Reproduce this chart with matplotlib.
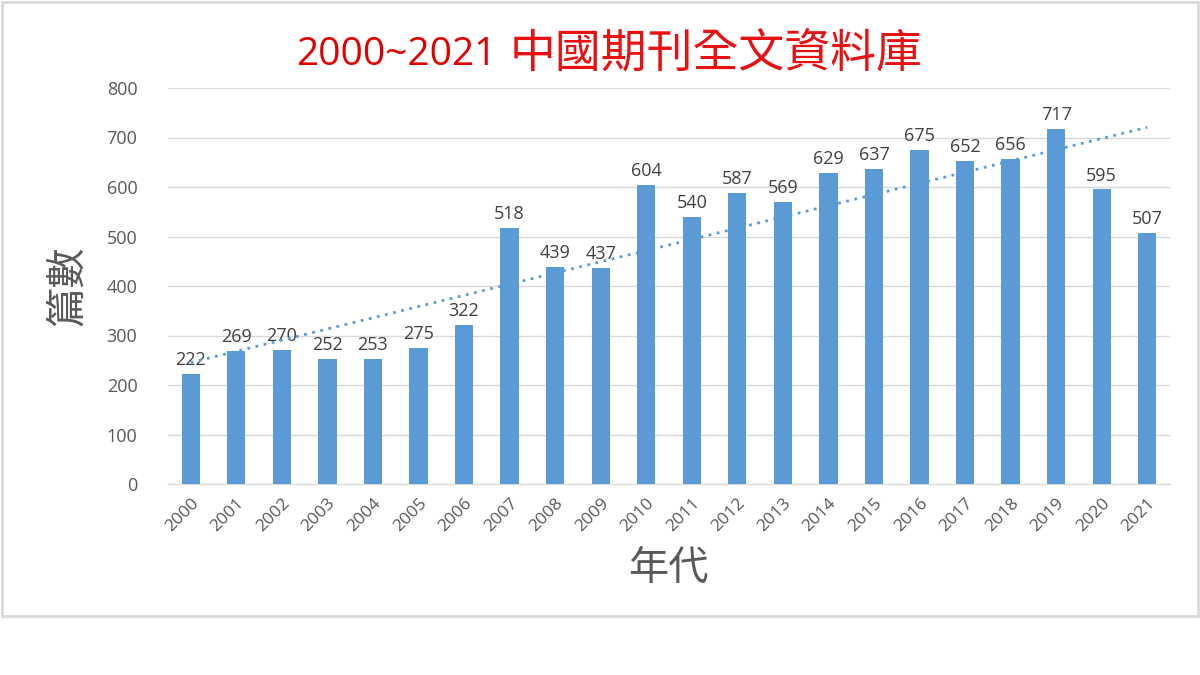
import matplotlib
matplotlib.use("Agg")
import matplotlib.pyplot as plt
import numpy as np
from matplotlib.patches import Rectangle

years = [str(y) for y in range(2000, 2022)]
counts = [222, 269, 270, 252, 253, 275, 322, 518, 439, 437, 604, 540,
          587, 569, 629, 637, 675, 652, 656, 717, 595, 507]
title_years = "2000~2021"
title_name = "中國期刊全文資料庫"
xlabel = "年代"
ylabel = "篇數"

plt.rcParams['font.family'] = ['Open Sans', 'Noto Sans CJK TC', 'DejaVu Sans']
cjk = ['Noto Sans CJK TC', 'DejaVu Sans']

fig = plt.figure(figsize=(12, 6.75), dpi=100)
fig.patch.set_facecolor('white')
fig.patches.append(Rectangle((2/1200, 1-616/675), 1196/1200, 614/675,
                             transform=fig.transFigure, fill=False,
                             edgecolor='#d9d9d9', linewidth=2))

ax = fig.add_axes([168/1200, 1-484/675, (1170-168)/1200, (484-88)/675])
x = np.arange(len(years))
ax.bar(x, counts, width=0.4, color='#5B9BD5', zorder=3)
for xi, c in zip(x, counts):
    ax.text(xi, c + 10, str(c), ha='center', va='bottom', fontsize=13,
            color='#404040', zorder=4)

# linear trendline
k, b = np.polyfit(x, counts, 1)
ax.plot([x[0], x[-1]], [k*x[0]+b, k*x[-1]+b], linestyle=(0, (1, 2.0)),
        color='#5B9BD5', linewidth=2, zorder=4)

ax.set_xlim(-0.5, len(years) - 0.5)
ax.set_ylim(0, 800)
ax.set_yticks(range(0, 801, 100))
ax.yaxis.grid(True, color='#d9d9d9', linewidth=1, zorder=0)
ax.set_axisbelow(True)
for s in ['top', 'right', 'left']:
    ax.spines[s].set_visible(False)
ax.spines['bottom'].set_color('#d9d9d9')
ax.set_xticks(x)
ax.set_xticklabels(years, rotation=45, ha='right', rotation_mode='anchor',
                   fontsize=12.5, color='#595959')
ax.tick_params(axis='both', length=0, colors='#595959')
ax.tick_params(axis='y', labelsize=13, pad=22)
ax.tick_params(axis='x', pad=8)

fig.text(497/1200, 1-55/675, title_years, ha='right', va='center',
         fontsize=28, color='#e00000')
fig.text(510/1200, 1-53/675, title_name, ha='left', va='center',
         fontsize=33, color='#e81010', family=cjk, fontweight='light')
fig.text(668/1200, 1-568/675, xlabel, ha='center', va='center', fontsize=29,
         color='#595959', family=cjk, fontweight='light')
fig.text(68/1200, 1-286/675, ylabel, ha='center', va='center', fontsize=29,
         color='#595959', rotation=90, family=cjk, fontweight='light')

fig.savefig('out.png', dpi=100)
